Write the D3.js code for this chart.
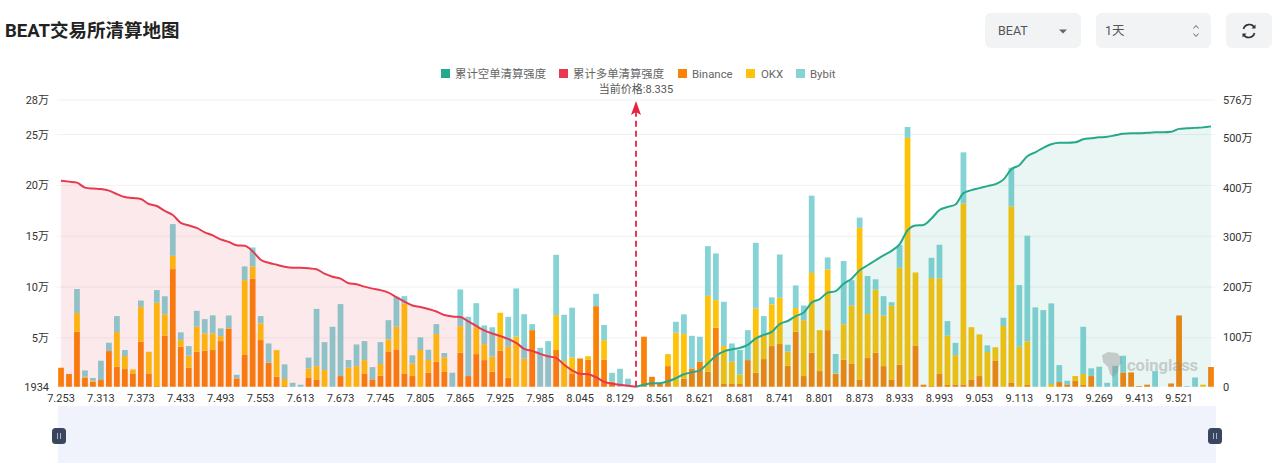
<!DOCTYPE html>
<html><head><meta charset="utf-8">
<script src="https://cdnjs.cloudflare.com/ajax/libs/d3/7.8.5/d3.min.js"></script>
<style>html,body{margin:0;padding:0;background:#fff;overflow:hidden}svg{display:block}text{font-family:Roboto,"Noto Sans CJK SC",sans-serif}</style>
</head><body><svg id="c" width="1280" height="471"></svg>
<script>
const categories=[7.253,7.265,7.277,7.289,7.301,7.313,7.325,7.337,7.349,7.361,
7.373,7.385,7.397,7.409,7.421,7.433,7.445,7.457,7.469,7.481,
7.493,7.505,7.517,7.529,7.541,7.553,7.565,7.577,7.589,7.601,
7.613,7.625,7.637,7.649,7.661,7.673,7.685,7.697,7.709,7.727,
7.745,7.757,7.769,7.781,7.793,7.805,7.817,7.829,7.841,7.853,
7.865,7.877,7.889,7.901,7.913,7.925,7.937,7.949,7.961,7.973,
7.985,7.997,8.009,8.021,8.033,8.045,8.057,8.069,8.081,8.105,
8.129,8.141,8.335,8.537,8.549,8.561,8.573,8.585,8.597,8.609,
8.621,8.633,8.645,8.657,8.669,8.681,8.693,8.705,8.717,8.729,
8.741,8.753,8.765,8.777,8.789,8.801,8.813,8.825,8.837,8.855,
8.873,8.885,8.897,8.909,8.921,8.933,8.945,8.957,8.969,8.981,
8.993,9.005,9.017,9.029,9.041,9.053,9.065,9.077,9.089,9.101,
9.113,9.125,9.137,9.149,9.161,9.173,9.185,9.197,9.221,9.245,
9.269,9.293,9.317,9.341,9.377,9.413,9.437,9.461,9.485,9.497,
9.521,9.545,9.569,9.593,9.617];
const tickLabels=[7.253,7.313,7.373,7.433,7.493,7.553,7.613,7.673,7.745,7.805,7.865,7.925,7.985,8.045,8.129,8.561,8.621,8.681,8.741,8.801,8.873,8.933,8.993,9.053,9.113,9.173,9.269,9.413,9.521];
const leftTicks=[0.1934,5,10,15,20,25,28.4];
const rightTicks=[0,100,200,300,400,500,576];
const currentPrice=8.335;
// exchange values, in 万
const binance=[2.06,1.44,5.60,1.10,0.68,0.85,3.70,2.16,1.93,1.50,
4.61,1.50,0.26,5.23,11.76,4.12,2.06,3.63,3.73,3.80,
4.68,5.92,1.01,3.31,10.81,4.78,2.55,1.17,0.26,0,
0,1.10,0.91,0,0,1.24,0,0,1.50,0.91,
1.27,3.66,3.86,1.50,1.24,0,1.57,2.65,1.64,0,
3.53,1.24,3.40,2.81,1.66,3.73,1.07,0,0,5.76,
0,0,3.80,0,1.44,2.97,2.87,8.12,2.87,0.68,
0,0,0,5.11,1.17,0.46,2.22,0,0.98,1.99,
2.68,1.66,5.99,0.46,0.46,0.46,2.81,1.57,2.91,4.19,
4.39,2.25,5.60,1.24,3.53,1.73,5.76,1.44,2.87,2.48,
0.91,3.01,3.53,2.22,0.91,2.35,0,4.25,0.39,0.26,
1.44,0.36,0.42,0.42,0.91,1.24,0,2.72,0,0.61,
0,0.36,0,0,0,0.65,0.42,0.75,0.36,1.24,
0,0,0,1.60,1.60,0.26,0.39,0,0,0.51,
7.20,0,0,0,2.13];
const okx=[0,0,1.84,0.07,0.10,0,0,3.41,1.28,0.39,
3.44,2.13,8.19,2.09,1.31,0.66,1.18,2.46,1.70,1.64,
0.49,0.03,0,7.37,1.21,1.64,0,2.62,0.69,0,
0,0.88,1.31,1.83,0,0,2.06,2.22,1.31,0,
1.15,1.18,2.23,6.88,1.25,3.80,1.25,2.72,1.45,0,
2.62,0,2.65,1.57,1.50,3.74,3.05,5.11,2.94,0,
0,0,3.44,2.72,1.64,0,0.32,0,1.90,0,
0,0,0,0,0,0,1.18,5.50,4.39,0,
0,7.47,2.72,3.74,2.19,0.95,0,6.32,2.36,4.10,
4.55,1.41,2.33,5.50,7.86,4.03,5.97,0.07,3.47,5.70,
14.91,4.33,6.22,4.98,7.24,9.54,24.67,7.18,0,10.62,
9.41,4.85,2.88,17.79,5.14,4.10,3.60,1.35,6.16,17.33,
4.12,4.30,0,0,0.46,0,0,0.49,1.08,0,
0,0,0,0,0,0,0,0,0,0,
0,0,0,0.39,0];
const bybit=[0,0,2.36,0.62,0.27,1.90,0.82,1.57,0.59,0,
0.62,0,1.25,1.77,3.12,0.76,0.95,1.57,1.41,1.77,
0.76,1.25,0.36,1.35,1.87,0.72,1.90,0,1.44,0.58,
0.39,1.08,5.63,2.75,6.09,7.08,0.76,2.13,1.87,1.21,
2.16,1.90,2.95,0.72,0.79,1.25,1.01,0.98,0.42,1.57,
3.61,5.83,2.36,1.84,2.88,0,2.95,4.75,4.39,0.59,
4.02,4.68,5.93,4.55,4.89,0,0,1.21,1.50,0.88,
1.96,0.98,0,0,0,0,0,1.08,1.94,3.21,
2.43,4.89,4.59,4.35,1.80,2.39,2.95,6.46,1.87,0.69,
4.26,0.66,2.23,1.44,7.60,0,1.18,1.90,6.22,2.49,
1.01,3.74,1.01,1.90,0.36,2.23,1.08,0,0,2.00,
3.31,1.44,1.21,5.04,0,0,0.66,0,0.82,3.80,
6.07,10.39,7.99,7.73,7.93,1.67,0.36,0,4.65,0.76,
2.16,0.58,2.25,1.64,0,0,0,1.73,0,0,
0,0.26,1.10,0,0];
// cumulative long liquidation (first 73 categories), in 万
const longCum=[414,412,410,400,398,397,394,387,381,379,
377,367,363,353,345,329,324,319,310,304,
296,291,284,283,272,255,249,245,241,239,
239,238,236,227,221,217,208,206,201,197,
194,189,180,171,163,160,156,151,144,141,
140,131,122,113,107,102,96,88,76,72,
66,61,58,44,33,26,25,19,10,6,
4,2,0];
// cumulative short liquidation (from the current price on), in 万
const shortCum=[0,4,7,7,11,17,25,29,33,47,
62,71,75,78,84,97,104,110,126,132,
142,149,169,176,189,192,207,217,234,244,
254,264,273,286,314,324,325,338,355,361,
366,389,395,399,403,407,416,437,445,463,
471,480,487,490,490,491,497,499,501,502,
505,508,509,509,510,511,511,512,518,519,
520,521,523];

const colors={short:"#26a98a",long:"#e8394f",binance:"#fb8208",okx:"#ffc20a",bybit:"#86d3d6"};
const legendItems=[
 {t:"累计空单清算强度",c:colors.short,x:441,tx:455},
 {t:"累计多单清算强度",c:colors.long,x:559,tx:573},
 {t:"Binance",c:colors.binance,x:678,tx:692},
 {t:"OKX",c:colors.okx,x:746,tx:761},
 {t:"Bybit",c:colors.bybit,x:796,tx:810}];

const svg=d3.select("#c");
const x=d3.scaleBand().domain(categories).range([57,1215]).paddingInner(0.28).paddingOuter(0.14);
const cx=v=>x(v)+x.bandwidth()/2;
const yL=d3.scaleLinear().domain([0.1934,28.4]).range([386.7,100]);
const yR=d3.scaleLinear().domain([0,576]).range([386.7,100]);

// title and controls
svg.append("text").attr("x",5).attr("y",37).attr("font-size",18.5).attr("font-weight",700).attr("fill","#222")
 .attr("font-family",'"Noto Sans CJK SC",sans-serif').text("BEAT交易所清算地图");
[[985,96],[1096,115],[1226,46]].forEach(([a,w])=>svg.append("rect").attr("x",a).attr("y",13).attr("width",w).attr("height",35).attr("rx",6).attr("fill","#f1f3f5"));
svg.append("text").attr("x",998).attr("y",35).attr("font-size",12.5).attr("fill","#555").text("BEAT");
svg.append("path").attr("d","M1059 29.5h8l-4 4z").attr("fill","#666");
svg.append("text").attr("x",1105).attr("y",35).attr("font-size",12.5).attr("fill","#555").text("1天");
svg.append("path").attr("d","M1193.5 28.5l2.5-3 2.5 3M1193.5 33.5l2.5 3 2.5-3").attr("fill","none").attr("stroke","#666");
svg.append("path").attr("d","M1243.5 29a6 6 0 0 1 11-1.5M1254.5 33a6 6 0 0 1-11 1.5").attr("fill","none").attr("stroke","#333").attr("stroke-width",1.7);
svg.append("path").attr("d","M1255.5 24.5v4h-4zM1242.5 37.500v-4h4z").attr("fill","#333");

// legend
legendItems.forEach(d=>{
 svg.append("rect").attr("x",d.x).attr("y",69).attr("width",9).attr("height",9).attr("fill",d.c);
 svg.append("text").attr("x",d.tx).attr("y",77.500).attr("font-size",11.4).attr("fill","#666")
  .attr("font-family",'"Noto Sans CJK SC",Roboto,sans-serif').text(d.t);
});
svg.append("text").attr("x",636).attr("y",92.500).attr("text-anchor","middle").attr("font-size",11).attr("fill","#555")
 .attr("font-family",'"Noto Sans CJK SC",Roboto,sans-serif').text("当前价格:"+currentPrice);

// grid
const g=svg.append("g");
g.selectAll("line").data(leftTicks.slice(1)).join("line")
 .attr("x1",57).attr("x2",1215).attr("y1",d=>yL(d)).attr("y2",d=>yL(d)).attr("stroke","#f1f1f1");

// stacked bars
const rows=categories.map((c,i)=>({c,binance:binance[i],okx:okx[i],bybit:bybit[i]}));
const stack=d3.stack().keys(["binance","okx","bybit"])(rows);
svg.append("clipPath").attr("id","clip").append("rect").attr("x",50).attr("y",90).attr("width",1180).attr("height",296.7);
const barsG=svg.append("g").attr("clip-path","url(#clip)");
barsG.selectAll("g").data(stack).join("g").attr("fill",d=>colors[d.key])
 .selectAll("rect").data(d=>d.filter(s=>s[1]>s[0])).join("rect")
 .attr("x",d=>x(d.data.c)).attr("width",x.bandwidth())
 .attr("y",d=>yL(d[1])).attr("height",d=>yL(d[0])-yL(d[1]));

// cumulative areas and lines
const longCats=categories.slice(0,longCum.length);
const shortCats=categories.slice(categories.length-shortCum.length);
const drawCum=(vals,cats,col,op)=>{
 const data=vals.map((v,i)=>({c:cats[i],v}));
 svg.append("path").datum(data).attr("fill",col).attr("fill-opacity",op)
  .attr("d",d3.area().x(d=>cx(d.c)).y0(yR(0)).y1(d=>yR(d.v)).curve(d3.curveMonotoneX));
 svg.append("path").datum(data).attr("fill","none").attr("stroke",col).attr("stroke-width",2)
  .attr("d",d3.line().x(d=>cx(d.c)).y(d=>yR(d.v)).curve(d3.curveMonotoneX));
};
drawCum(longCum,longCats,colors.long,0.11);
drawCum(shortCum,shortCats,colors.short,0.1);

// current price marker
const px=cx(currentPrice);
svg.append("line").attr("x1",px).attr("x2",px).attr("y1",yR(0)).attr("y2",110).attr("stroke","#e9233f").attr("stroke-width",1.8).attr("stroke-dasharray","6 4");
svg.append("path").attr("d",`M${px} 101L${px+5} 115L${px} 112L${px-5} 115Z`).attr("fill","#e9233f");

// axes
const styleAxis=s=>{s.select(".domain").remove();s.selectAll(".tick line").remove();s.selectAll("text").attr("fill","#333").attr("font-size",11);};
svg.append("g").attr("transform","translate(49,0)").call(d3.axisLeft(yL).tickValues(leftTicks).tickSize(0).tickPadding(0)
 .tickFormat(d=>d<1?"1934":Math.floor(d)+"万")).call(styleAxis);
svg.append("g").attr("transform","translate(1223,0)").call(d3.axisRight(yR).tickValues(rightTicks).tickSize(0).tickPadding(0)
 .tickFormat(d=>d===0?"0":d+"万")).call(styleAxis);
svg.append("g").attr("transform","translate(0,390)").call(d3.axisBottom(x).tickValues(tickLabels).tickSize(0).tickPadding(4)
 .tickFormat(d3.format(".3f"))).call(styleAxis);

// watermark
const wm=svg.append("g").attr("opacity",0.38);
wm.append("path").attr("d","M1102 355l6-3 9 1 4 4 1 6-3 3-1 6-5 5-3-3-2-7-5-5z").attr("fill","#8a8a8a");
wm.append("text").attr("x",1127).attr("y",371).attr("font-size",16.5).attr("font-weight",700).attr("fill","#8a8a8a").text("coinglass");

// range slider
svg.append("rect").attr("x",58).attr("y",406).attr("width",1158).attr("height",57).attr("fill","#f0f3fc");
[59,1215].forEach(h=>{
 svg.append("rect").attr("x",h-7).attr("y",428).attr("width",14).attr("height",16).attr("rx",3.500).attr("fill","#3a4660");
 svg.append("path").attr("d",`M${h-1.5} 433v6M${h+1.5} 433v6`).attr("stroke","#aeb6c6").attr("stroke-width",1);
});
</script></body></html>
